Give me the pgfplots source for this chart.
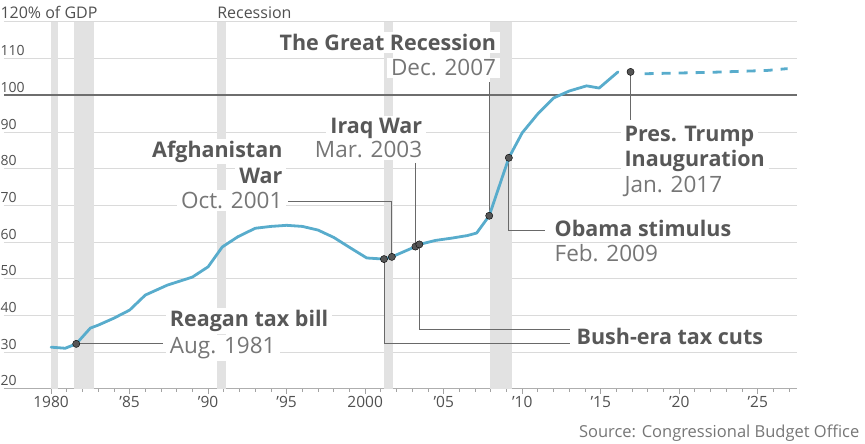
\documentclass[border=0pt]{standalone}
\usepackage{pgfplots}
\pgfplotsset{compat=1.18}
\usepackage{fontspec}
\setmainfont{Open Sans}
\definecolor{debtblue}{RGB}{88,172,204}
\definecolor{recgray}{RGB}{226,226,226}
\definecolor{gridgray}{RGB}{218,218,218}
\definecolor{boldtxt}{RGB}{88,88,88}
\definecolor{lighttxt}{RGB}{118,118,118}
\definecolor{leadercol}{RGB}{105,105,105}
\definecolor{dotgray}{RGB}{85,85,85}
\definecolor{ticktxt}{RGB}{80,80,80}
\definecolor{hundred}{RGB}{110,110,110}
\tikzset{
  boldlab/.style={font=\fontsize{21.5}{21.5}\selectfont\bfseries, text=boldtxt, fill=white, inner xsep=4pt, inner ysep=2pt},
  reglab/.style={font=\fontsize{22.5}{22.5}\selectfont, text=lighttxt, fill=white, inner xsep=4pt, inner ysep=2pt},
}
\begin{document}
\begin{tikzpicture}[x=1pt,y=1pt]
\path[use as bounding box] (0,0) rectangle (865,444);
\begin{axis}[
  at={(4pt,55pt)}, anchor=south west,
  width=793pt, height=367pt, scale only axis,
  xmin=1977.0, xmax=2027.5, ymin=20, ymax=120,
  clip=false,
  axis lines*=left,
  y axis line style={draw=none},
  x axis line style={draw=gridgray!80!black, line width=1pt},
  ytick={20,30,...,120},
  yticklabels={20,30,40,50,60,70,80,90,100,110,{\fontsize{16}{16}\selectfont 120\% of GDP}},
  ytick style={draw=none},
  yticklabel style={anchor=base west, font=\fontsize{14}{14}\selectfont, text=ticktxt, xshift=-2pt, yshift=3pt},
  xtick={1980,1985,...,2025},
  xticklabels={1980,’85,’90,’95,2000,’05,’10,’15,’20,’25},
  minor xtick={1981,...,2027},
  tick align=outside,
  major tick length=5pt, minor tick length=3pt,
  xtick style={draw=gridgray!75!black, line width=0.8pt},
  minor tick style={draw=gridgray!85!black, line width=0.6pt},
  xticklabel style={font=\fontsize{15.5}{15.5}\selectfont, text=ticktxt, yshift=1pt},
  ymajorgrids,
  major grid style={draw=gridgray, line width=1pt},
]
% recession bands
\addplot[fill=recgray, draw=none, forget plot] coordinates {(1980.0,20)(1980.0,120)(1980.45,120)(1980.45,20)} -- cycle;
\addplot[fill=recgray, draw=none, forget plot] coordinates {(1981.46,20)(1981.46,120)(1982.74,120)(1982.74,20)} -- cycle;
\addplot[fill=recgray, draw=none, forget plot] coordinates {(1990.57,20)(1990.57,120)(1991.14,120)(1991.14,20)} -- cycle;
\addplot[fill=recgray, draw=none, forget plot] coordinates {(2001.2,20)(2001.2,120)(2001.77,120)(2001.77,20)} -- cycle;
\addplot[fill=recgray, draw=none, forget plot] coordinates {(2007.94,20)(2007.94,120)(2009.34,120)(2009.34,20)} -- cycle;
% 100 percent line
\addplot[hundred, line width=2pt, no marks, forget plot] coordinates {(1977.0,100)(2027.5,100)};
% leader lines
\addplot[leadercol, line width=1pt, no marks, forget plot] coordinates {(1981.6,32.3)(1987.1,32.3)};
\addplot[leadercol, line width=1pt, no marks, forget plot] coordinates {(1995.1,71.2)(2001.7,71.2)(2001.7,56.0)};
\addplot[leadercol, line width=1pt, no marks, forget plot] coordinates {(2003.2,81.6)(2003.2,58.8)};
\addplot[leadercol, line width=1pt, no marks, forget plot] coordinates {(2001.2,55.4)(2001.2,32.5)(2013.04,32.5)};
\addplot[leadercol, line width=1pt, no marks, forget plot] coordinates {(2003.45,59.4)(2003.45,36.1)(2013.04,36.1)};
\addplot[leadercol, line width=1pt, no marks, forget plot] coordinates {(2007.9,103.6)(2007.9,67.2)};
\addplot[leadercol, line width=1pt, no marks, forget plot] coordinates {(2009.15,83.0)(2009.15,63.3)(2011.45,63.3)};
\addplot[leadercol, line width=1pt, no marks, forget plot] coordinates {(2016.9,106.4)(2016.9,93.3)};
% debt series (actual)
\addplot[debtblue, line width=2.8pt, no marks, line join=round, line cap=round] coordinates {
(1980.0,31.4)(1980.9,31.1)(1981.6,32.3)(1982.5,36.6)(1983.0,37.4)(1984.0,39.3)(1985.0,41.5)
(1986.0,45.6)(1987.4,48.3)(1989.0,50.5)(1990.0,53.3)(1990.9,58.7)(1991.9,61.5)(1993.0,63.8)
(1994.0,64.3)(1995.0,64.6)(1996.0,64.3)(1997.0,63.3)(1998.0,61.3)(1999.0,58.6)(2000.1,55.7)
(2001.2,55.4)(2001.7,56.0)(2003.2,58.8)(2003.45,59.4)(2004.5,60.5)(2005.5,61.1)(2006.5,61.8)
(2007.1,62.5)(2007.9,67.2)(2009.15,83.0)(2010.0,89.8)(2011.0,95.0)(2012.0,99.3)(2013.0,101.2)
(2014.1,102.6)(2014.9,102.0)(2016.1,106.4)};
% projection
\addplot[debtblue, line width=2.8pt, no marks, dash pattern=on 9pt off 8pt] coordinates {
(2017.8,105.9)(2020.0,106.1)(2022.1,106.3)(2025.6,106.8)(2026.9,107.3)};
% event dots
\addplot[only marks, mark=*, mark size=3.6pt, mark options={fill=dotgray, draw=none}] coordinates {
(1981.6,32.3)(2001.2,55.4)(2001.7,56.0)(2003.2,58.8)(2003.45,59.4)(2007.9,67.2)(2009.15,83.0)(2016.9,106.4)};
% labels
\node[anchor=base west, inner sep=0pt, font=\fontsize{16}{16}\selectfont, text=ticktxt] at (axis cs:1990.57,121.0) {Recession};
\node[boldlab, anchor=base east] at (axis cs:2008.6,112.2) {The Great Recession};
\node[reglab, anchor=base east] at (axis cs:2008.6,105.3) {Dec. 2007};
\node[boldlab, anchor=base east] at (axis cs:2003.9,89.7) {Iraq War};
\node[reglab, anchor=base east] at (axis cs:2003.9,83.0) {Mar. 2003};
\node[boldlab, anchor=base east] at (axis cs:1995.0,83.2) {Afghanistan};
\node[boldlab, anchor=base east] at (axis cs:1995.0,76.0) {War};
\node[reglab, anchor=base east] at (axis cs:1995.0,69.2) {Oct. 2001};
\node[boldlab, anchor=base west] at (axis cs:2016.25,87.4) {Pres. Trump};
\node[boldlab, anchor=base west] at (axis cs:2016.25,80.6) {Inauguration};
\node[reglab, anchor=base west] at (axis cs:2016.25,73.5) {Jan. 2017};
\node[boldlab, anchor=base west] at (axis cs:2011.8,61.5) {Obama stimulus};
\node[reglab, anchor=base west] at (axis cs:2011.8,54.7) {Feb. 2009};
\node[boldlab, anchor=base west] at (axis cs:2013.2,32.2) {Bush-era tax cuts};
\node[boldlab, anchor=base west] at (axis cs:1987.3,37.0) {Reagan tax bill};
\node[reglab, anchor=base west] at (axis cs:1987.3,29.7) {Aug. 1981};
\node[anchor=base east, inner sep=0pt, font=\fontsize{16.5}{16.5}\selectfont, text=lighttxt] at (axis cs:2031.48,6.65) {Source: Congressional Budget Office};
\end{axis}
\end{tikzpicture}
\end{document}
